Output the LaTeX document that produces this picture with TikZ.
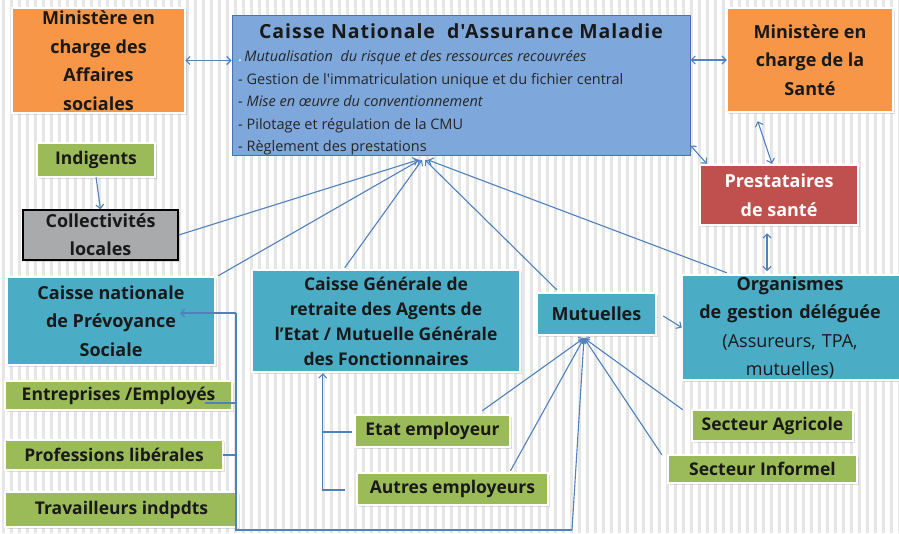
\documentclass[tikz,border=0pt]{standalone}
\usepackage{fontspec}
\setmainfont{Open Sans}
\newfontfamily\spaced[LetterSpace=5]{Open Sans}
\newfontfamily\listfont[LetterSpace=0]{Open Sans}
\usetikzlibrary{arrows.meta,calc,shadows}
\definecolor{orng}{RGB}{247,150,70}
\definecolor{cnamblue}{RGB}{126,168,220}
\definecolor{cnamborder}{RGB}{70,115,175}
\definecolor{grn}{RGB}{155,187,89}
\definecolor{teal}{RGB}{75,172,198}
\definecolor{redb}{RGB}{192,80,77}
\definecolor{grayb}{RGB}{168,170,172}
\definecolor{lnk}{RGB}{79,129,189}
\definecolor{stripe}{RGB}{230,230,230}
\begin{document}
\begin{tikzpicture}[x=1pt,y=-1pt,
  >={Straight Barb[length=4pt,width=8pt]},
  basebox/.style={rectangle, inner sep=0pt, align=center, text=black!90,
    draw=gray!35, double=white, double distance=1.3pt, line width=0.5pt,
    drop shadow={shadow xshift=1.5pt, shadow yshift=-2pt, opacity=0.25}},
  obox/.style={basebox, fill=orng, font=\bfseries\fontsize{18}{28.5}\selectfont},
  gbox/.style={basebox, fill=grn, font=\bfseries\fontsize{17.5}{20}\selectfont},
  tbox/.style={basebox, fill=teal, font=\bfseries\fontsize{18}{28.5}\selectfont},
  conn/.style={draw=lnk, line width=1.1pt}
]
\useasboundingbox (0,0) rectangle (899,533);
\fill[white] (0,0) rectangle (899,533);
\foreach \x in {2,10,...,898} {\fill[stripe] (\x,0) rectangle (\x+2.5,533);}

% top row
\node[obox, minimum width=173pt, minimum height=105pt] (masoc) at (98.5,60.5)
  {Ministère en\\charge des\\Affaires\\sociales};
\node[draw=cnamborder, fill=cnamblue, line width=1pt, minimum width=458pt,
  minimum height=140pt, inner sep=0pt] (cnam) at (461,85) {};
\node[font=\spaced\bfseries\fontsize{19.5}{20}\selectfont, text=black!90] (cnamtitle) at (461,31)
  {Caisse Nationale \ d'Assurance Maladie};
\node[anchor=west, align=left, inner sep=0pt, text=black!85,
  font=\listfont\fontsize{14.5}{22.5}\selectfont] (cnamlist) at (238,103)
  {{\color{white}.}\,\textit{Mutualisation\ \ du risque et des ressources recouvrées}\\
   - Gestion de l'immatriculation\ unique et du fichier central\\
   - \textit{Mise en œuvre du conventionnement}\\
   - Pilotage et régulation de la CMU\\
   - Règlement des prestations};
\node[obox, minimum width=166pt, minimum height=104pt] (msante) at (810,60)
  {Ministère en\\charge de la\\Santé};

% left column
\node[gbox, minimum width=118pt, minimum height=34pt] (indigents) at (96,160) {Indigents};
\node[draw=black, line width=1.5pt, fill=grayb, inner sep=0pt, align=center, text=black!90,
  font=\bfseries\fontsize{18}{28}\selectfont,
  drop shadow={shadow xshift=1.5pt, shadow yshift=-2pt, opacity=0.25},
  minimum width=155pt, minimum height=50pt] (collect) at (100.5,235) {Collectivités\\locales};
\node[basebox, fill=redb, text=white, font=\bfseries\fontsize{18}{29}\selectfont,
  minimum width=158pt, minimum height=60pt] (prest) at (779,195) {Prestataires\\de santé};

% middle row
\node[tbox, minimum width=208pt, minimum height=88pt] (cnps) at (111,321)
  {Caisse nationale\\de Prévoyance\\Sociale};
\node[tbox, font=\bfseries\fontsize{17.5}{25}\selectfont, minimum width=268pt, minimum height=102pt]
  (cgrae) at (386,321)
  {Caisse Générale de\\retraite des Agents de\\l'Etat / Mutuelle Générale\\des Fonctionnaires};
\node[tbox, minimum width=119pt, minimum height=42pt] (mutuelles) at (596.5,314) {Mutuelles};
\node[tbox, minimum width=225pt, minimum height=105pt, text width=220pt] (ogd) at (794.5,327.5)
  {\hspace*{-9pt}Organismes\\\hspace*{-9pt}de gestion\ déléguée\\\hspace*{-9pt}\mdseries(Assureurs, TPA,\\\hspace*{-9pt}\mdseries mutuelles)};

% lower boxes
\node[gbox, minimum width=227pt, minimum height=29pt] (entreprises) at (118.5,395.5) {Entreprises /Employés};
\node[gbox, minimum width=218pt, minimum height=30pt] (professions) at (114,455) {Professions libérales};
\node[gbox, minimum width=233pt, minimum height=35pt] (travailleurs) at (121.5,509.5) {Travailleurs indpdts};
\node[gbox, minimum width=155pt, minimum height=32pt] (etat) at (432.5,431) {Etat employeur};
\node[gbox, minimum width=191pt, minimum height=32pt] (autres) at (452.5,489) {Autres employeurs};
\node[gbox, minimum width=161pt, minimum height=31pt] (agricole) at (772.5,425.5) {Secteur Agricole};
\node[gbox, minimum width=189pt, minimum height=28pt] (informel) at (762.5,469) {Secteur Informel};

% double arrows at top
\draw[conn,<->] (masoc.east) -- (masoc.east -| cnam.west);
\draw[conn,<->] (msante.west -| cnam.east) -- (msante.west);
\draw[conn,<->] ($(cnam.south east)+(0,-10)$) -- ($(prest.north west)+(7,-1)$);
\draw[conn,<->] ($(msante.south west)+(31,9)$) -- ($(prest.north)+(-7,-1)$);
\draw[conn,<->] ($(prest.south)+(-12,8)$) -- ($(prest.south)+(-12,46)$);
\draw[conn,->] (indigents.south) -- (collect.north);

% towards CNAM
\coordinate (hubC) at (422,160);
\draw[conn,->] (collect.east) -- ($(hubC)+(-4,0)$);
\draw[conn,->] ($(cnps.north east)+(3,-1)$) -- ($(hubC)+(-2,0)$);
\draw[conn,->] ($(cgrae.north west)+(93,-2)$) -- (hubC);
\draw[conn,->] ($(mutuelles.north west)+(20,-3)$) -- ($(hubC)+(3,0)$);
\draw[conn,->] ($(ogd.north west)+(45,-2)$) -- ($(hubC)+(6,0)$);

% towards Mutuelles
\coordinate (hubM) at (584,338);
\draw[conn,->] ($(etat.north east)+(-28,-4)$) -- (hubM);
\draw[conn,->] ($(autres.north)+(58,-2)$) -- (hubM);
\draw[conn,->] ($(agricole.north west)+(-9,0)$) -- (hubM);
\draw[conn,->] ($(informel.north west)+(-6,0)$) -- (hubM);
\draw[conn,->] ($(mutuelles.east)+(7,2)$) -- (ogd.west);

% bus on the left
\coordinate (busT) at (236,313);
\coordinate (busB) at (236,530);
\coordinate (busR) at (572,530);
\draw[conn,->] (busT) -- (180,313);
\draw[conn] (busT) -- (busB) -- (busR);
\draw[conn,->] (busR) -- (hubM);
\coordinate (e1) at ($(entreprises.east)+(-27,7.5)$);
\draw[conn] (e1) -- (e1 -| busT);
\draw[conn] (professions.east) -- (professions.east -| busT);

% towards CGRAE
\coordinate (cgIn) at ($(cgrae.south west)+(71,1)$);
\coordinate (a1) at ($(autres.west)+(-12,1)$);
\coordinate (et1) at ($(etat.west)+(-3,1)$);
\draw[conn,->] (a1) -| (cgIn);
\draw[conn] (et1) -- (et1 -| cgIn);
\end{tikzpicture}
\end{document}
